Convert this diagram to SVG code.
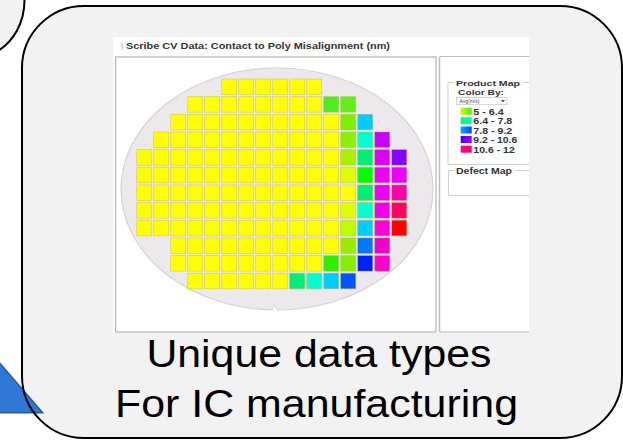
<svg xmlns="http://www.w3.org/2000/svg" width="623" height="441" viewBox="0 0 623 441">
  <style>
    .panel{fill:#f2f2f2}
    .outline{fill:none;stroke:#000;stroke-width:2}
    .ui{font-family:"Liberation Sans",Arial,sans-serif;font-weight:bold;fill:#333}
    .caption{font-family:"Liberation Sans",Arial,sans-serif;font-size:38px;fill:#000;text-anchor:middle}
    .frame{fill:none;stroke:#b4b4b4;stroke-width:1.2}
    .grp{fill:none;stroke:#cfcfcf;stroke-width:1}
    .die rect{width:15px;height:15.5px;stroke:#b8b040;stroke-opacity:0.45;stroke-width:0.8}
    .die .y{fill:#ffff00}
  </style>
  <defs>
    <linearGradient id="sw1" x1="0" x2="1" y1="0" y2="0"><stop offset="0" stop-color="#d0ff00"/><stop offset="1" stop-color="#44ee00"/></linearGradient>
    <linearGradient id="sw2" x1="0" x2="1" y1="0" y2="0"><stop offset="0" stop-color="#00ff66"/><stop offset="1" stop-color="#00ffbb"/></linearGradient>
    <linearGradient id="sw3" x1="0" x2="1" y1="0" y2="0"><stop offset="0" stop-color="#00aaff"/><stop offset="1" stop-color="#0044ff"/></linearGradient>
    <linearGradient id="sw4" x1="0" x2="1" y1="0" y2="0"><stop offset="0" stop-color="#4400ff"/><stop offset="1" stop-color="#9900ff"/></linearGradient>
    <linearGradient id="sw5" x1="0" x2="1" y1="0" y2="0"><stop offset="0" stop-color="#ff00aa"/><stop offset="1" stop-color="#ff0055"/></linearGradient>
    <clipPath id="rightPanelClip"><rect x="441" y="57" width="88" height="275"/></clipPath>
  </defs>

  <!-- neighbouring callout, mostly off the top-left edge -->
  <g id="corner-callout">
    <path class="panel" d="M-4,-4 L24.5,-4 L24.5,0 C24.5,22 14,42 -4,52 Z"/>
    <path class="outline" d="M24.5,-4 L24.5,0 C24.5,22 14,42 -4,52"/>
  </g>

  <!-- main callout -->
  <g id="callout">
    <rect class="panel" x="22" y="6" width="600" height="432" rx="62" ry="62"/>
  </g>

  <!-- arrow tip entering from the left -->
  <g id="arrow-tip">
    <path d="M-5,357.5 L42.7,412.7 L-5,412.7 Z" fill="#2f78d6" stroke="#2a5b9e" stroke-width="1.5"/>
  </g>

  <g id="callout-border">
    <rect class="outline" x="22" y="6" width="600" height="432" rx="62" ry="62"/>
  </g>

  <!-- wafer map screenshot -->
  <g id="wafer-screenshot">
    <rect x="113" y="37" width="416" height="296" fill="#ffffff"/>
    <rect x="121.5" y="42.5" width="1.5" height="7" fill="#d0d0d0"/>
    <text class="ui" x="126" y="49" font-size="9" textLength="264" lengthAdjust="spacingAndGlyphs">Scribe CV Data: Contact to Poly Misalignment (nm)</text>

    <!-- map frame -->
    <rect class="frame" x="115.5" y="57" width="320.5" height="275"/>

    <!-- wafer -->
    <ellipse cx="277" cy="189" rx="156" ry="121" fill="#ece8ec" stroke="#d6d2d6" stroke-width="1.2"/>
    <path d="M271.5,310.5 L274.5,305 L277.5,310.5" fill="#ffffff" stroke="#d6d2d6" stroke-width="1"/>

    <!-- die grid: columns at 136.7 + 17k, rows at 79 + 17.66j -->
    <g class="die">
      <g transform="translate(0,79)">
        <rect class="y" x="221.7"/><rect class="y" x="238.7"/><rect class="y" x="255.7"/><rect class="y" x="272.7"/><rect class="y" x="289.7"/><rect class="y" x="306.7"/>
      </g>
      <g transform="translate(0,96.66)">
        <rect class="y" x="187.7"/><rect class="y" x="204.7"/><rect class="y" x="221.7"/><rect class="y" x="238.7"/><rect class="y" x="255.7"/><rect class="y" x="272.7"/><rect class="y" x="289.7"/><rect class="y" x="306.7"/>
        <rect x="323.7" fill="#4ded1e"/><rect x="340.7" fill="#5ef01a"/>
      </g>
      <g transform="translate(0,114.32)">
        <rect class="y" x="170.7"/><rect class="y" x="187.7"/><rect class="y" x="204.7"/><rect class="y" x="221.7"/><rect class="y" x="238.7"/><rect class="y" x="255.7"/><rect class="y" x="272.7"/><rect class="y" x="289.7"/><rect class="y" x="306.7"/><rect class="y" x="323.7"/>
        <rect x="340.7" fill="#7cf000"/><rect x="357.7" fill="#00ccff"/>
      </g>
      <g transform="translate(0,131.98)">
        <rect class="y" x="153.7"/><rect class="y" x="170.7"/><rect class="y" x="187.7"/><rect class="y" x="204.7"/><rect class="y" x="221.7"/><rect class="y" x="238.7"/><rect class="y" x="255.7"/><rect class="y" x="272.7"/><rect class="y" x="289.7"/><rect class="y" x="306.7"/><rect class="y" x="323.7"/>
        <rect x="340.7" fill="#8cf000"/><rect x="357.7" fill="#00ffcc"/><rect x="374.7" fill="#cc00ff"/>
      </g>
      <g transform="translate(0,149.64)">
        <rect class="y" x="136.7"/><rect class="y" x="153.7"/><rect class="y" x="170.7"/><rect class="y" x="187.7"/><rect class="y" x="204.7"/><rect class="y" x="221.7"/><rect class="y" x="238.7"/><rect class="y" x="255.7"/><rect class="y" x="272.7"/><rect class="y" x="289.7"/><rect class="y" x="306.7"/><rect class="y" x="323.7"/>
        <rect x="340.7" fill="#aaf000"/><rect x="357.7" fill="#00ee77"/><rect x="374.7" fill="#dd00ff"/><rect x="391.7" fill="#8800ff"/>
      </g>
      <g transform="translate(0,167.3)">
        <rect class="y" x="136.7"/><rect class="y" x="153.7"/><rect class="y" x="170.7"/><rect class="y" x="187.7"/><rect class="y" x="204.7"/><rect class="y" x="221.7"/><rect class="y" x="238.7"/><rect class="y" x="255.7"/><rect class="y" x="272.7"/><rect class="y" x="289.7"/><rect class="y" x="306.7"/><rect class="y" x="323.7"/>
        <rect x="340.7" fill="#ddff00"/><rect x="357.7" fill="#00ff00"/><rect x="374.7" fill="#ee00ff"/><rect x="391.7" fill="#ee00ff"/>
      </g>
      <g transform="translate(0,184.96)">
        <rect class="y" x="136.7"/><rect class="y" x="153.7"/><rect class="y" x="170.7"/><rect class="y" x="187.7"/><rect class="y" x="204.7"/><rect class="y" x="221.7"/><rect class="y" x="238.7"/><rect class="y" x="255.7"/><rect class="y" x="272.7"/><rect class="y" x="289.7"/><rect class="y" x="306.7"/><rect class="y" x="323.7"/><rect class="y" x="340.7"/>
        <rect x="357.7" fill="#00ee77"/><rect x="374.7" fill="#ee00ff"/><rect x="391.7" fill="#ff00aa"/>
      </g>
      <g transform="translate(0,202.62)">
        <rect class="y" x="136.7"/><rect class="y" x="153.7"/><rect class="y" x="170.7"/><rect class="y" x="187.7"/><rect class="y" x="204.7"/><rect class="y" x="221.7"/><rect class="y" x="238.7"/><rect class="y" x="255.7"/><rect class="y" x="272.7"/><rect class="y" x="289.7"/><rect class="y" x="306.7"/><rect class="y" x="323.7"/>
        <rect x="340.7" fill="#ddff00"/><rect x="357.7" fill="#00ffcc"/><rect x="374.7" fill="#ee00ee"/><rect x="391.7" fill="#ff0066"/>
      </g>
      <g transform="translate(0,220.28)">
        <rect class="y" x="136.7"/><rect class="y" x="153.7"/><rect class="y" x="170.7"/><rect class="y" x="187.7"/><rect class="y" x="204.7"/><rect class="y" x="221.7"/><rect class="y" x="238.7"/><rect class="y" x="255.7"/><rect class="y" x="272.7"/><rect class="y" x="289.7"/><rect class="y" x="306.7"/><rect class="y" x="323.7"/>
        <rect x="340.7" fill="#bbff00"/><rect x="357.7" fill="#00ccff"/><rect x="374.7" fill="#ff00dd"/><rect x="391.7" fill="#ff0000"/>
      </g>
      <g transform="translate(0,237.94)">
        <rect class="y" x="170.7"/><rect class="y" x="187.7"/><rect class="y" x="204.7"/><rect class="y" x="221.7"/><rect class="y" x="238.7"/><rect class="y" x="255.7"/><rect class="y" x="272.7"/><rect class="y" x="289.7"/><rect class="y" x="306.7"/><rect class="y" x="323.7"/>
        <rect x="340.7" fill="#99ee00"/><rect x="357.7" fill="#0077ff"/><rect x="374.7" fill="#ee00cc"/>
      </g>
      <g transform="translate(0,255.6)">
        <rect class="y" x="170.7"/><rect class="y" x="187.7"/><rect class="y" x="204.7"/><rect class="y" x="221.7"/><rect class="y" x="238.7"/><rect class="y" x="255.7"/><rect class="y" x="272.7"/><rect class="y" x="289.7"/><rect class="y" x="306.7"/>
        <rect x="323.7" fill="#33ee00"/><rect x="340.7" fill="#88ee00"/><rect x="357.7" fill="#0022ff"/><rect x="374.7" fill="#ff00cc"/>
      </g>
      <g transform="translate(0,273.26)">
        <rect class="y" x="187.7"/><rect class="y" x="204.7"/><rect class="y" x="221.7"/><rect class="y" x="238.7"/><rect class="y" x="255.7"/><rect class="y" x="272.7"/>
        <rect x="289.7" fill="#00ee77"/><rect x="306.7" fill="#00ffcc"/><rect x="323.7" fill="#00ccff"/><rect x="340.7" fill="#0055ff"/>
      </g>
    </g>

    <!-- side panel -->
    <line x1="439.5" y1="57" x2="439.5" y2="332" stroke="#bdbdbd" stroke-width="1.5"/>
    <line x1="439.5" y1="56.5" x2="529" y2="56.5" stroke="#bdbdbd" stroke-width="1"/>
    <line x1="439.5" y1="332" x2="529" y2="332" stroke="#b4b4b4" stroke-width="1.2"/>

    <g clip-path="url(#rightPanelClip)">
      <!-- Product Map group box -->
      <path class="grp" d="M454,82.5 L448,82.5 L448,164.5 L535,164.5 M523,82.5 L535,82.5"/>
      <text class="ui" x="456" y="86" font-size="8" textLength="64" lengthAdjust="spacingAndGlyphs">Product Map</text>
      <text class="ui" x="458" y="95" font-size="8" textLength="46" lengthAdjust="spacingAndGlyphs">Color By:</text>
      <rect x="456.5" y="97.5" width="50.5" height="7" fill="#ffffff" stroke="#c4c4c4" stroke-width="0.7"/>
      <text x="459.5" y="103" font-family="'Liberation Sans',Arial,sans-serif" font-size="5" fill="#444">Avg(m/s)</text>
      <path d="M501,100 L505,100 L503,102.2 Z" fill="#444"/>
      <rect x="460.7" y="107.7" width="11" height="7" fill="url(#sw1)"/>
      <rect x="460.7" y="117.2" width="11" height="7" fill="url(#sw2)"/>
      <rect x="460.7" y="126.5" width="11" height="7" fill="url(#sw3)"/>
      <rect x="460.7" y="136" width="11" height="7" fill="url(#sw4)"/>
      <rect x="460.7" y="145.7" width="11" height="7" fill="url(#sw5)"/>
      <text class="ui" x="473.3" y="114.8" font-size="9" textLength="30.5" lengthAdjust="spacingAndGlyphs">5 - 6.4</text>
      <text class="ui" x="473.3" y="124.3" font-size="9" textLength="39" lengthAdjust="spacingAndGlyphs">6.4 - 7.8</text>
      <text class="ui" x="473.3" y="133.6" font-size="9" textLength="39" lengthAdjust="spacingAndGlyphs">7.8 - 9.2</text>
      <text class="ui" x="473.3" y="143.1" font-size="9" textLength="44" lengthAdjust="spacingAndGlyphs">9.2 - 10.6</text>
      <text class="ui" x="473.3" y="152.8" font-size="9" textLength="41.5" lengthAdjust="spacingAndGlyphs">10.6 - 12</text>

      <!-- Defect Map group box -->
      <path class="grp" d="M454,170.5 L448.5,170.5 L448.5,195.5 L535,195.5 M515,170.5 L535,170.5"/>
      <text class="ui" x="456" y="174" font-size="9" textLength="56" lengthAdjust="spacingAndGlyphs">Defect Map</text>
    </g>
  </g>

  <!-- caption -->
  <g id="caption">
    <text class="caption" x="318.9" y="366.7" textLength="345" lengthAdjust="spacingAndGlyphs">Unique data types</text>
    <text class="caption" x="316.5" y="416.7" textLength="403" lengthAdjust="spacingAndGlyphs">For IC manufacturing</text>
  </g>
</svg>
